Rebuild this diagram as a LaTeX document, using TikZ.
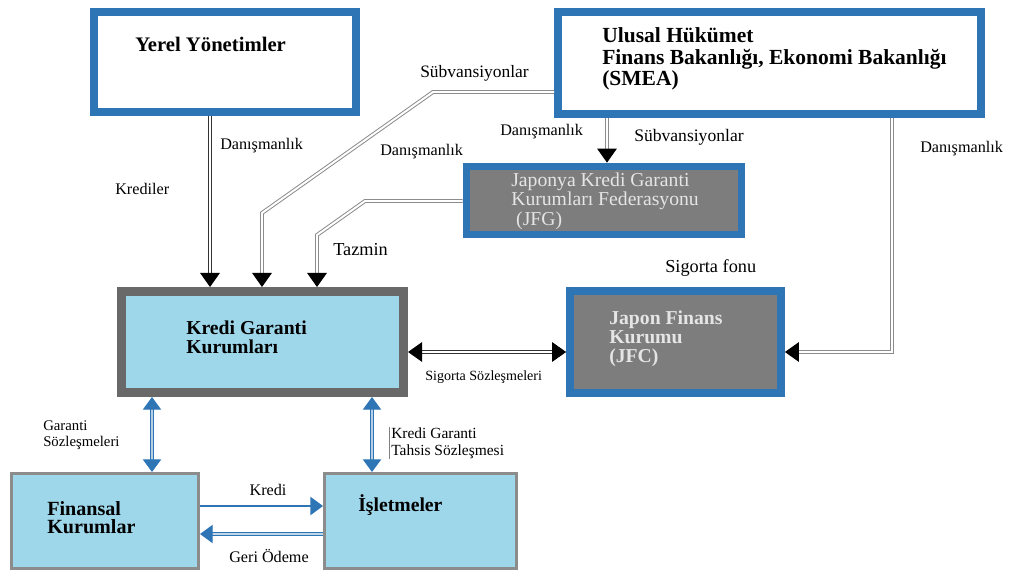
\documentclass[tikz,border=0pt]{standalone}
\usepackage{fontspec}
\setmainfont{Liberation Serif}
\usetikzlibrary{arrows.meta}
\definecolor{boxblue}{RGB}{46,117,182}
\definecolor{lightfill}{RGB}{158,214,234}
\definecolor{darkfill}{RGB}{125,125,125}
\definecolor{framegray}{RGB}{105,105,105}
\definecolor{thingray}{RGB}{140,140,140}

\begin{document}
\begin{tikzpicture}[x=0.025cm, y=-0.025cm,
    blue box/.style={draw=boxblue, line width=5.5pt, fill=white, inner sep=0pt},
    dark box/.style={blue box, fill=darkfill},
    head text/.style={font=\fontsize{14}{15}\selectfont\bfseries, align=left, anchor=west, inner sep=0pt},
    note text/.style={font=\fontsize{11.5}{13}\selectfont, align=left, anchor=west, inner sep=0pt},
    small text/.style={font=\fontsize{10.5}{11.5}\selectfont, align=left, anchor=west, inner sep=0pt},
    pipe/.style={draw=black!45, double=white, double distance=1.4pt, line width=0.7pt, line join=miter,
        -{Triangle[width=14pt, length=10pt, color=black]}},
    dark pipe/.style={pipe, draw=black!80},
    blue link/.style={draw=boxblue, double=boxblue!35, double distance=1.6pt, line width=0.8pt,
        {Triangle[width=13pt, length=9pt]}-{Triangle[width=13pt, length=9pt]}}]

    \useasboundingbox (0,0) rectangle (1011,571);

    % Boxes
    \node[blue box, minimum width=6.55cm, minimum height=2.5cm] (yerel) at (225,62) {};
    \node[blue box, minimum width=10.575cm, minimum height=2.55cm] (ulusal) at (769.5,63) {};
    \node[dark box, minimum width=6.875cm, minimum height=1.7cm] (jfg) at (604,200.5) {};
    \node[dark box, minimum width=5.275cm, minimum height=2.55cm] (jfc) at (675.5,342) {};
    \node[draw=framegray, line width=6.4pt, fill=lightfill, inner sep=0pt,
        minimum width=7.05cm, minimum height=2.525cm] (kredi) at (262.5,342) {};
    \node[draw=thingray, line width=2.1pt, fill=lightfill, inner sep=0pt,
        minimum width=4.675cm, minimum height=2.375cm] (finans) at (105,521) {};
    \node[draw=thingray, line width=2.1pt, fill=lightfill, inner sep=0pt,
        minimum width=4.8cm, minimum height=2.375cm] (isletme) at (420.5,521) {};

    % Box texts
    \node[head text, font=\fontsize{14.7}{15}\selectfont\bfseries] (yerel-t) at (135,44) {Yerel Yönetimler};
    \node[head text, font=\fontsize{15.3}{15.5}\selectfont\bfseries] (ulusal-t) at (602,59)
        {Ulusal Hükümet\\Finans Bakanlığı, Ekonomi Bakanlığı\\(SMEA)};
    \node[font=\fontsize{14}{12.5}\selectfont, text=white!90!black, align=left, anchor=west, inner sep=0pt]
        (jfg-t) at (511,201) {Japonya Kredi Garanti\\Kurumları Federasyonu\\\ (JFG)};
    \node[head text, font=\fontsize{14}{13.5}\selectfont\bfseries, text=white!90!black]
        (jfc-t) at (609,339) {Japon Finans\\Kurumu\\(JFC)};
    \node[head text, font=\fontsize{14}{13.5}\selectfont\bfseries] (kredi-t) at (186,337) {Kredi Garanti\\Kurumları};
    \node[head text, font=\fontsize{14.3}{13}\selectfont\bfseries] (finans-t) at (47,518) {Finansal\\Kurumlar};
    \node[head text] (isletme-t) at (358,505) {İşletmeler};

    % Connectors from above
    \draw[dark pipe] (210,0 |- yerel.south) -- (210,0 |- kredi.north);
    \draw[pipe] (ulusal.west |- 0,92) -- (433,92) -- (262,213) -- (262,0 |- kredi.north);
    \draw[pipe] (jfg.west |- 0,201) -- (365,201) -- (317,235) -- (317,0 |- kredi.north);
    \draw[pipe] (607,0 |- ulusal.south) -- (607,0 |- jfg.north);
    \draw[pipe] (892,0 |- ulusal.south) -- (892,352) -- (jfc.east |- 0,352);
    \draw[dark pipe, {Triangle[width=14pt, length=10pt, color=black]}-{Triangle[width=14pt, length=10pt, color=black]}]
        (kredi.east |- 0,352) -- (jfc.west |- 0,352);

    % Connectors below
    \draw[blue link] (152,0 |- kredi.south) -- (152,0 |- finans.north);
    \draw[blue link] (372,0 |- kredi.south) -- (372,0 |- isletme.north);
    \draw[draw=boxblue, line width=1.2pt, -{Triangle[width=13pt, length=9pt]}]
        (finans.east |- 0,506) -- (isletme.west |- 0,506);
    \draw[draw=boxblue, double=boxblue!30, double distance=1.4pt, line width=0.8pt,
        -{Triangle[width=13pt, length=9pt]}] (isletme.west |- 0,534) -- (finans.east |- 0,534);

    % Labels
    \node[note text] (l-dan1) at (220,146) {Danışmanlık};
    \node[note text] (l-kred) at (115,189) {Krediler};
    \node[note text, font=\fontsize{12.4}{13}\selectfont] (l-sub1) at (420,73) {Sübvansiyonlar};
    \node[note text] (l-dan2) at (380,152) {Danışmanlık};
    \node[note text] (l-dan3) at (500,132) {Danışmanlık};
    \node[note text, font=\fontsize{12.5}{13}\selectfont] (l-sub2) at (634,137) {Sübvansiyonlar};
    \node[note text] (l-dan4) at (920,149) {Danışmanlık};
    \node[note text, font=\fontsize{13}{14}\selectfont] (l-taz) at (333,250) {Tazmin};
    \node[note text, font=\fontsize{13}{14}\selectfont] (l-sig) at (665,268) {Sigorta fonu};
    \node[small text, font=\fontsize{10}{11.5}\selectfont] (l-sigs) at (425,377) {Sigorta Sözleşmeleri};
    \node[small text] (l-gar) at (43,435) {Garanti\\Sözleşmeleri};
    \node[small text, font=\fontsize{11}{12}\selectfont] (l-tah) at (391,443) {Kredi Garanti\\Tahsis Sözleşmesi};
    \draw[black!50, line width=0.5pt] ([xshift=-1pt]l-tah.north west) -- ([xshift=-1pt]l-tah.south west);
    \node[note text, anchor=center] (l-kr) at (268,490) {Kredi};
    \node[note text, anchor=center] (l-geri) at (269,556) {Geri Ödeme};

\end{tikzpicture}
\end{document}
